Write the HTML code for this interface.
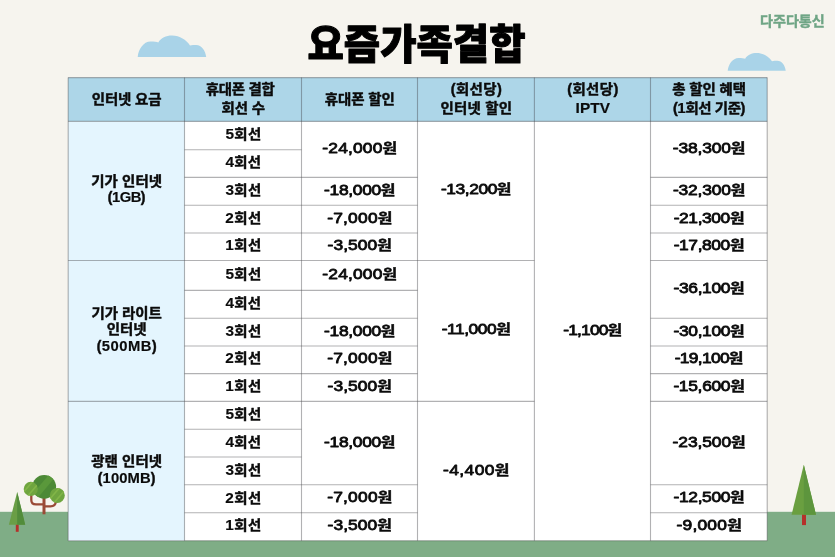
<!DOCTYPE html>
<html lang="ko"><head><meta charset="utf-8"><title>요즘가족결합</title>
<style>
html,body{margin:0;padding:0;background:#f6f4ee;}
body{width:835px;height:557px;overflow:hidden;position:relative;font-family:"Liberation Sans","Noto Sans CJK KR",sans-serif;}
svg{position:absolute;left:0;top:0;display:block;}
text{font-family:"Liberation Sans","Noto Sans CJK KR",sans-serif;font-weight:700;fill:#0b0b0b;text-anchor:middle;}
.h,.c,.w{stroke:#0b0b0b;stroke-width:0.45px;stroke-linejoin:round;}
.h{font-size:13.9px;}
.c{font-size:13.9px;}
.n{font-size:14.5px;font-weight:400;stroke:#0b0b0b;stroke-width:0.8px;stroke-linejoin:round;}
.n .w{font-size:13.3px;font-weight:700;stroke-width:0.45px;}
.l{font-size:14.8px;stroke-width:0.15px;}
.title{font-weight:900;font-size:39.5px;fill:#000;stroke:#000;stroke-width:1px;stroke-linejoin:round;}
.logo{font-size:14.1px;fill:#6fa585;stroke:#6fa585;stroke-width:0.4px;}
</style></head><body>
<svg width="835" height="557" viewBox="0 0 835 557">
<rect x="0" y="0" width="835" height="557" fill="#f6f4ee"/>
<rect x="0" y="511.8" width="835" height="46" fill="#7fad86"/>
<path transform="translate(137.7 35.6)" d="M0 21.3 C0.8 14 5.5 6 13 6 C16.3 6 19.3 6.4 20.6 6.8 C23.3 2.4 28.3 0 34.3 0 C42.3 0 48.3 4.4 52.3 9.8 C54.3 9.4 56.3 9.3 58.5 9.3 C64 9.3 67.8 15 68.5 21.3 Z" fill="#a9d3e8"/>
<path transform="translate(727.7 53) scale(0.847 0.831)" d="M0 21.3 C0.8 14 5.5 6 13 6 C16.3 6 19.3 6.4 20.6 6.8 C23.3 2.4 28.3 0 34.3 0 C42.3 0 48.3 4.4 52.3 9.8 C54.3 9.4 56.3 9.3 58.5 9.3 C64 9.3 67.8 15 68.5 21.3 Z" fill="#a9d3e8"/>
<defs><clipPath id="cm"><circle cx="44.2" cy="486.8" r="11.9"/></clipPath><clipPath id="cl"><circle cx="30.8" cy="488.9" r="7.1"/></clipPath><clipPath id="cr"><circle cx="57.3" cy="495.4" r="7.5"/></clipPath></defs>
<g fill="none" stroke="#9a4a36" stroke-width="2.3" stroke-linecap="round">
<path d="M44 498 V514.3" stroke-width="3" stroke-linecap="butt"/>
<path d="M31.3 495.5 V500 Q31.3 504.4 36 504.4 H44"/>
<path d="M55.9 501.5 Q55.5 506.3 50.5 506.3 H44.5"/>
</g>
<circle cx="44.2" cy="486.8" r="11.9" fill="#4c8936"/>
<path clip-path="url(#cm)" d="M52 471 L56.5 475.5 L36 500 L31 496 Z" fill="#5a983b"/>
<circle cx="30.8" cy="488.9" r="7.1" fill="#6fa53f"/>
<g clip-path="url(#cl)" stroke="#82b548" stroke-width="1.6"><path d="M22 494 L34 480"/><path d="M26 498 L38 484"/></g>
<circle cx="57.3" cy="495.4" r="7.5" fill="#6fa53f"/>
<g clip-path="url(#cr)" stroke="#82b548" stroke-width="1.6"><path d="M49 500 L61 486"/><path d="M53 504 L65 490"/></g>
<rect x="15.8" y="524" width="2.9" height="7.8" fill="#b5302a"/>
<path d="M17.2 492 L8.9 524.7 H25.2 Z" fill="#6a9e46"/>
<path d="M17.2 492 L25.2 524.7 H17.2 Z" fill="#528c3b"/>
<rect x="802" y="514" width="4" height="11.1" fill="#b5302a"/>
<path d="M803.8 464.8 L791.6 514.7 H816 Z" fill="#6a9f40"/>
<path d="M803.8 464.8 L816 514.7 H803.8 Z" fill="#5d953d"/>
<rect x="68.2" y="77.6" width="699" height="463.1" fill="#fff"/>
<rect x="68.2" y="77.6" width="699" height="43.8" fill="#add6e8"/>
<rect x="68.2" y="121.4" width="116.3" height="419.3" fill="#e4f5fe"/>
<g stroke="rgba(60,60,64,0.40)" stroke-width="1.1" fill="none">
<path d="M68.2 77.6 V540.7"/>
<path d="M184.5 77.6 V540.7"/>
<path d="M301.5 77.6 V540.7"/>
<path d="M417.5 77.6 V540.7"/>
<path d="M534.4 77.6 V540.7"/>
<path d="M650.5 77.6 V540.7"/>
<path d="M767.2 77.6 V540.7"/>
<path d="M68.2 77.60 H767.2"/>
<path d="M68.2 121.40 H767.2"/>
<path d="M68.2 540.70 H767.2"/>
<path d="M68.2 260.55 H184.5"/>
<path d="M417.5 260.55 H534.4"/>
<path d="M68.2 401.40 H184.5"/>
<path d="M417.5 401.40 H534.4"/>
<path d="M184.5 149.80 H301.5"/>
<path d="M184.5 177.40 H301.5"/>
<path d="M184.5 205.20 H301.5"/>
<path d="M184.5 233.00 H301.5"/>
<path d="M184.5 260.55 H301.5"/>
<path d="M184.5 290.40 H301.5"/>
<path d="M184.5 318.20 H301.5"/>
<path d="M184.5 345.95 H301.5"/>
<path d="M184.5 373.60 H301.5"/>
<path d="M184.5 401.40 H301.5"/>
<path d="M184.5 429.25 H301.5"/>
<path d="M184.5 457.00 H301.5"/>
<path d="M184.5 484.80 H301.5"/>
<path d="M184.5 512.80 H301.5"/>
<path d="M301.5 177.40 H417.5"/>
<path d="M301.5 205.20 H417.5"/>
<path d="M301.5 233.00 H417.5"/>
<path d="M301.5 260.55 H417.5"/>
<path d="M301.5 290.40 H417.5"/>
<path d="M301.5 318.20 H417.5"/>
<path d="M301.5 345.95 H417.5"/>
<path d="M301.5 373.60 H417.5"/>
<path d="M301.5 401.40 H417.5"/>
<path d="M301.5 484.80 H417.5"/>
<path d="M301.5 512.80 H417.5"/>
<path d="M650.5 177.40 H767.2"/>
<path d="M650.5 205.20 H767.2"/>
<path d="M650.5 233.00 H767.2"/>
<path d="M650.5 260.55 H767.2"/>
<path d="M650.5 318.20 H767.2"/>
<path d="M650.5 345.95 H767.2"/>
<path d="M650.5 373.60 H767.2"/>
<path d="M650.5 401.40 H767.2"/>
<path d="M650.5 484.80 H767.2"/>
<path d="M650.5 512.80 H767.2"/>
</g>
<text class="title" x="416.5" y="59.5" transform="translate(416.5 59.5) scale(1 1.04) translate(-416.5 -59.5)">요즘가족결합</text>
<text class="logo" x="792.40" y="26.30">다주다통신</text>
<text class="h" transform="translate(126.65 104.20) scale(1.04 1)" x="-0.09" y="0" style="letter-spacing:-0.17px">인터넷 요금</text>
<text class="h" transform="translate(240.30 94.40) scale(1.04 1)" x="-0.14" y="0" style="letter-spacing:-0.28px">휴대폰 결합</text>
<text class="h" transform="translate(243.30 112.80) scale(1.04 1)" x="-0.05" y="0" style="letter-spacing:-0.10px">회선 수</text>
<text class="h" transform="translate(359.80 104.20) scale(1.04 1)" x="-0.03" y="0" style="letter-spacing:-0.06px">휴대폰 할인</text>
<text class="h" transform="translate(476.25 94.40) scale(1.04 1)" x="0.21" y="0" style="letter-spacing:0.42px">(회선당)</text>
<text class="h" transform="translate(476.25 112.80) scale(1.04 1)" x="0.10" y="0" style="letter-spacing:0.20px">인터넷 할인</text>
<text class="h" transform="translate(592.75 94.40) scale(1.04 1)" x="0.21" y="0" style="letter-spacing:0.42px">(회선당)</text>
<text class="h" transform="translate(592.75 112.80) scale(1.04 1)" x="0.05" y="0" style="letter-spacing:0.10px"><tspan class="l">IPTV</tspan></text>
<text class="h" transform="translate(709.15 94.40) scale(1.04 1)" x="-0.07" y="0" style="letter-spacing:-0.14px">총 할인 혜택</text>
<text class="h" transform="translate(709.15 112.80) scale(1.04 1)" x="-0.21" y="0" style="letter-spacing:-0.42px">(<tspan class="l">1</tspan>회선 기준)</text>
<text class="c" transform="translate(126.65 185.93) scale(1.04 1)" x="0.03" y="0" style="letter-spacing:0.06px">기가 인터넷</text>
<text class="c" x="126.40" y="202.43" style="letter-spacing:-0.50px">(<tspan class="l">1GB</tspan>)</text>
<text class="c" transform="translate(126.65 318.08) scale(1.04 1)" x="-0.02" y="0" style="letter-spacing:-0.04px">기가 라이트</text>
<text class="c" transform="translate(126.65 334.48) scale(1.04 1)" x="-0.01" y="0" style="letter-spacing:-0.03px">인터넷</text>
<text class="c" x="126.90" y="350.88" style="letter-spacing:0.51px">(<tspan class="l">500MB</tspan>)</text>
<text class="c" transform="translate(126.65 466.35) scale(1.04 1)" x="0.04" y="0" style="letter-spacing:0.07px">광랜 인터넷</text>
<text class="c" x="126.70" y="482.85" style="letter-spacing:0.10px">(<tspan class="l">100MB</tspan>)</text>
<text class="c" transform="translate(243.30 139.30) scale(1.04 1)" x="0.15" y="0" style="letter-spacing:0.31px"><tspan class="l">5</tspan>회선</text>
<text class="c" transform="translate(243.30 167.30) scale(1.04 1)" x="0.10" y="0" style="letter-spacing:0.21px"><tspan class="l">4</tspan>회선</text>
<text class="c" transform="translate(243.30 195.00) scale(1.04 1)" x="0.15" y="0" style="letter-spacing:0.31px"><tspan class="l">3</tspan>회선</text>
<text class="c" transform="translate(243.30 222.80) scale(1.04 1)" x="0.21" y="0" style="letter-spacing:0.42px"><tspan class="l">2</tspan>회선</text>
<text class="c" transform="translate(243.30 250.47) scale(1.04 1)" x="0.26" y="0" style="letter-spacing:0.52px"><tspan class="l">1</tspan>회선</text>
<text class="c" transform="translate(243.30 278.57) scale(1.04 1)" x="0.15" y="0" style="letter-spacing:0.31px"><tspan class="l">5</tspan>회선</text>
<text class="c" transform="translate(243.30 308.00) scale(1.04 1)" x="0.10" y="0" style="letter-spacing:0.21px"><tspan class="l">4</tspan>회선</text>
<text class="c" transform="translate(243.30 335.77) scale(1.04 1)" x="0.15" y="0" style="letter-spacing:0.31px"><tspan class="l">3</tspan>회선</text>
<text class="c" transform="translate(243.30 363.47) scale(1.04 1)" x="0.21" y="0" style="letter-spacing:0.42px"><tspan class="l">2</tspan>회선</text>
<text class="c" transform="translate(243.30 391.20) scale(1.04 1)" x="0.26" y="0" style="letter-spacing:0.52px"><tspan class="l">1</tspan>회선</text>
<text class="c" transform="translate(243.30 419.02) scale(1.04 1)" x="0.15" y="0" style="letter-spacing:0.31px"><tspan class="l">5</tspan>회선</text>
<text class="c" transform="translate(243.30 446.82) scale(1.04 1)" x="0.10" y="0" style="letter-spacing:0.21px"><tspan class="l">4</tspan>회선</text>
<text class="c" transform="translate(243.30 474.60) scale(1.04 1)" x="0.15" y="0" style="letter-spacing:0.31px"><tspan class="l">3</tspan>회선</text>
<text class="c" transform="translate(243.30 502.50) scale(1.04 1)" x="0.21" y="0" style="letter-spacing:0.42px"><tspan class="l">2</tspan>회선</text>
<text class="c" transform="translate(243.30 530.45) scale(1.04 1)" x="0.26" y="0" style="letter-spacing:0.52px"><tspan class="l">1</tspan>회선</text>
<text class="n" transform="translate(359.80 152.85) scale(1.2 1)" x="0.07" y="0" style="letter-spacing:0.15px">-24,000<tspan class="w">원</tspan></text>
<text class="n" transform="translate(359.80 194.75) scale(1.2 1)" x="-0.13" y="0" style="letter-spacing:-0.26px">-18,000<tspan class="w">원</tspan></text>
<text class="n" transform="translate(359.80 222.55) scale(1.2 1)" x="0.10" y="0" style="letter-spacing:0.19px">-7,000<tspan class="w">원</tspan></text>
<text class="n" transform="translate(359.80 250.22) scale(1.2 1)" x="0.03" y="0" style="letter-spacing:0.06px">-3,500<tspan class="w">원</tspan></text>
<text class="n" transform="translate(359.80 278.93) scale(1.2 1)" x="0.07" y="0" style="letter-spacing:0.15px">-24,000<tspan class="w">원</tspan></text>
<text class="n" transform="translate(359.80 335.52) scale(1.2 1)" x="-0.13" y="0" style="letter-spacing:-0.26px">-18,000<tspan class="w">원</tspan></text>
<text class="n" transform="translate(359.80 363.22) scale(1.2 1)" x="0.10" y="0" style="letter-spacing:0.19px">-7,000<tspan class="w">원</tspan></text>
<text class="n" transform="translate(359.80 390.95) scale(1.2 1)" x="0.03" y="0" style="letter-spacing:0.06px">-3,500<tspan class="w">원</tspan></text>
<text class="n" transform="translate(359.80 446.55) scale(1.2 1)" x="-0.13" y="0" style="letter-spacing:-0.26px">-18,000<tspan class="w">원</tspan></text>
<text class="n" transform="translate(359.80 502.25) scale(1.2 1)" x="0.10" y="0" style="letter-spacing:0.19px">-7,000<tspan class="w">원</tspan></text>
<text class="n" transform="translate(359.80 530.20) scale(1.2 1)" x="0.03" y="0" style="letter-spacing:0.06px">-3,500<tspan class="w">원</tspan></text>
<text class="n" transform="translate(476.25 194.43) scale(1.2 1)" x="-0.18" y="0" style="letter-spacing:-0.36px">-13,200<tspan class="w">원</tspan></text>
<text class="n" transform="translate(476.25 334.43) scale(1.2 1)" x="-0.18" y="0" style="letter-spacing:-0.37px">-11,000<tspan class="w">원</tspan></text>
<text class="n" transform="translate(476.25 474.50) scale(1.2 1)" x="0.17" y="0" style="letter-spacing:0.35px">-4,400<tspan class="w">원</tspan></text>
<text class="n" transform="translate(592.75 334.50) scale(1.2 1)" x="-0.35" y="0" style="letter-spacing:-0.71px">-1,100<tspan class="w">원</tspan></text>
<text class="n" transform="translate(709.15 152.85) scale(1.2 1)" x="-0.06" y="0" style="letter-spacing:-0.11px">-38,300<tspan class="w">원</tspan></text>
<text class="n" transform="translate(709.15 194.75) scale(1.2 1)" x="-0.07" y="0" style="letter-spacing:-0.15px">-32,300<tspan class="w">원</tspan></text>
<text class="n" transform="translate(709.15 222.55) scale(1.2 1)" x="-0.17" y="0" style="letter-spacing:-0.33px">-21,300<tspan class="w">원</tspan></text>
<text class="n" transform="translate(709.15 250.22) scale(1.2 1)" x="-0.17" y="0" style="letter-spacing:-0.33px">-17,800<tspan class="w">원</tspan></text>
<text class="n" transform="translate(709.15 292.82) scale(1.2 1)" x="-0.14" y="0" style="letter-spacing:-0.29px">-36,100<tspan class="w">원</tspan></text>
<text class="n" transform="translate(709.15 335.52) scale(1.2 1)" x="-0.14" y="0" style="letter-spacing:-0.29px">-30,100<tspan class="w">원</tspan></text>
<text class="n" transform="translate(709.15 363.22) scale(1.2 1)" x="-0.29" y="0" style="letter-spacing:-0.58px">-19,100<tspan class="w">원</tspan></text>
<text class="n" transform="translate(709.15 390.95) scale(1.2 1)" x="-0.12" y="0" style="letter-spacing:-0.25px">-15,600<tspan class="w">원</tspan></text>
<text class="n" transform="translate(709.15 446.55) scale(1.2 1)" x="-0.04" y="0" style="letter-spacing:-0.07px">-23,500<tspan class="w">원</tspan></text>
<text class="n" transform="translate(709.15 502.25) scale(1.2 1)" x="-0.14" y="0" style="letter-spacing:-0.29px">-12,500<tspan class="w">원</tspan></text>
<text class="n" transform="translate(709.15 530.20) scale(1.2 1)" x="0.10" y="0" style="letter-spacing:0.20px">-9,000<tspan class="w">원</tspan></text>
</svg>
</body></html>
